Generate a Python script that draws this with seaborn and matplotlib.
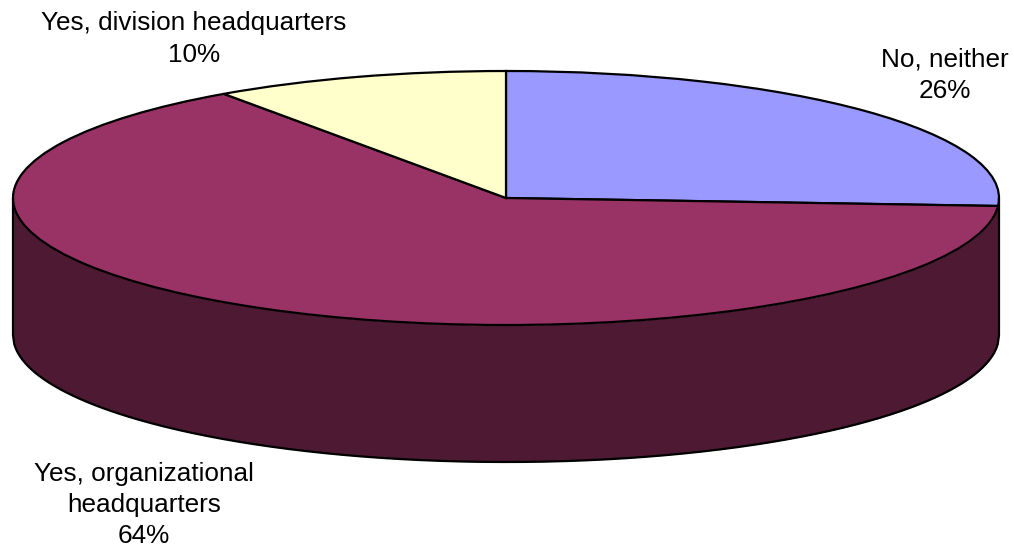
import numpy as np
import seaborn as sns
import matplotlib.pyplot as plt

labels = ["No, neither\n26%", "Yes, organizational\nheadquarters\n64%", "Yes, division headquarters\n10%"]
values = [26, 64.3, 9.7]
colors = ["#9999ff", "#993366", "#ffffcc"]
side_color = "#4d1933"

sns.set_theme(style="white")
plt.rcParams['font.family'] = ['Liberation Sans', 'DejaVu Sans']

fig, ax = plt.subplots(figsize=(10.14, 5.51), dpi=100)
ax.set_position([0, 0, 1, 1])

# one pie unit is 493 px wide and 127 px high, centre at px (506, 198)
depth = 137 / 127
lw = 1.6

x = np.linspace(-1, 1, 800)
front = -np.sqrt(1 - x ** 2)
ax.fill_between(x, front, front - depth, color=side_color, lw=0)
ax.plot(x, front - depth, color="black", lw=lw)
ax.plot([-1, -1], [0, -depth], color="black", lw=lw)
ax.plot([1, 1], [0, -depth], color="black", lw=lw)

ax.pie(values, colors=colors, startangle=90, counterclock=False, radius=1,
       wedgeprops={"edgecolor": "black", "linewidth": lw})

ax.set_aspect("auto")
ax.set_xlim(-506 / 493, (1014 - 506) / 493)
ax.set_ylim(-(551 - 198) / 127, 198 / 127)


def px(x_px, y_px):
    return (x_px - 506) / 493, (198 - y_px) / 127


ax.text(*px(945, 75), labels[0], ha="center", va="center", fontsize=18.8, color="black", linespacing=1.39)
ax.text(*px(144, 505), labels[1], ha="center", va="center", fontsize=18.8, color="black", linespacing=1.39)
ax.text(*px(194, 39), labels[2], ha="center", va="center", fontsize=18.8, color="black", linespacing=1.39)

fig.savefig("out.png", dpi=100)
